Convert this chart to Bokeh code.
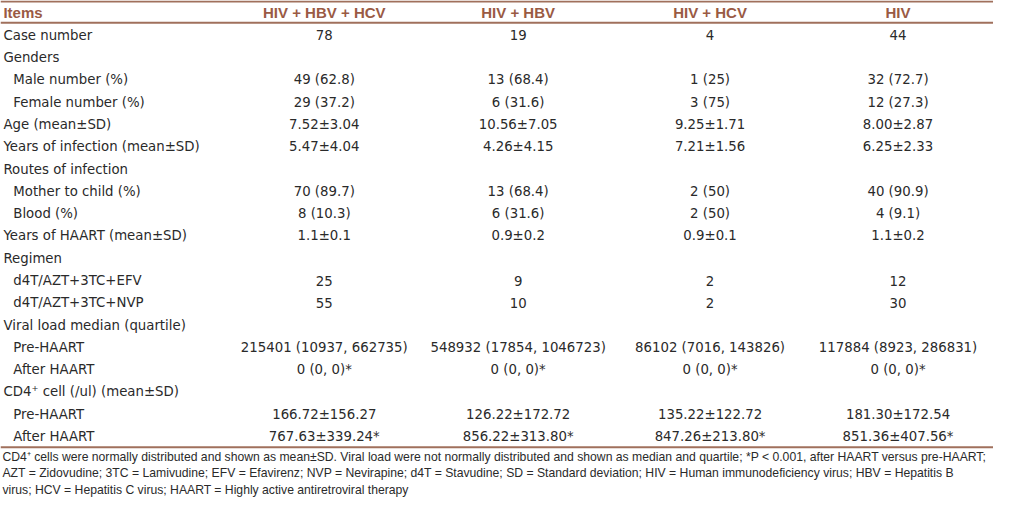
from bokeh.plotting import figure
from bokeh.models import Range1d, Span
from bokeh.core.properties import value
from bokeh.embed import file_html
from bokeh.resources import INLINE

columns = ["HIV + HBV + HCV", "HIV + HBV", "HIV + HCV", "HIV"]
items = [
    "Case number", "Genders", "Male number (%)", "Female number (%)",
    "Age (mean\u00b1SD)", "Years of infection (mean\u00b1SD)", "Routes of infection",
    "Mother to child (%)", "Blood (%)", "Years of HAART (mean\u00b1SD)", "Regimen",
    "d4T/AZT+3TC+EFV", "d4T/AZT+3TC+NVP", "Viral load median (quartile)",
    "Pre-HAART", "After HAART", "CD4\u207a cell (/ul) (mean\u00b1SD)", "Pre-HAART", "After HAART",
]
indent = [0, 0, 1, 1, 0, 0, 0, 1, 1, 0, 0, 1, 1, 0, 1, 1, 0, 1, 1]
hiv_hbv_hcv = ["78", "", "49 (62.8)", "29 (37.2)", "7.52\u00b13.04", "5.47\u00b14.04", "",
               "70 (89.7)", "8 (10.3)", "1.1\u00b10.1", "", "25", "55", "",
               "215401 (10937, 662735)", "0 (0, 0)*", "", "166.72\u00b1156.27", "767.63\u00b1339.24*"]
hiv_hbv = ["19", "", "13 (68.4)", "6 (31.6)", "10.56\u00b17.05", "4.26\u00b14.15", "",
           "13 (68.4)", "6 (31.6)", "0.9\u00b10.2", "", "9", "10", "",
           "548932 (17854, 1046723)", "0 (0, 0)*", "", "126.22\u00b1172.72", "856.22\u00b1313.80*"]
hiv_hcv = ["4", "", "1 (25)", "3 (75)", "9.25\u00b11.71", "7.21\u00b11.56", "",
           "2 (50)", "2 (50)", "0.9\u00b10.1", "", "2", "2", "",
           "86102 (7016, 143826)", "0 (0, 0)*", "", "135.22\u00b1122.72", "847.26\u00b1213.80*"]
hiv = ["44", "", "32 (72.7)", "12 (27.3)", "8.00\u00b12.87", "6.25\u00b12.33", "",
       "40 (90.9)", "4 (9.1)", "1.1\u00b10.2", "", "12", "30", "",
       "117884 (8923, 286831)", "0 (0, 0)*", "", "181.30\u00b1172.54", "851.36\u00b1407.56*"]
footnote = [
    "CD4\u207a cells were normally distributed and shown as mean\u00b1SD. Viral load were not normally distributed and shown as median and quartile; *P < 0.001, after HAART versus pre-HAART;",
    "AZT = Zidovudine; 3TC = Lamivudine; EFV = Efavirenz; NVP = Nevirapine; d4T = Stavudine; SD = Standard deviation; HIV = Human immunodeficiency virus; HBV = Hepatitis B",
    "virus; HCV = Hepatitis C virus; HAART = Highly active antiretroviral therapy",
]

W, H = 1009, 515
p = figure(width=993, height=499, x_range=Range1d(0, W), y_range=Range1d(H, 0),
           output_backend="svg", toolbar_location=None)
p.axis.visible = False
p.grid.visible = False
p.outline_line_color = None
p.min_border = 0
p.background_fill_color = "white"

brown = "#9a5a44"
line_col = "#a0705c"
txt = "#2a2a2a"
col_x = [329, 526, 721, 912]
row0, dy = 36, 23

# header
p.text(x=[3], y=[12], text=["Items"], text_font=value("Liberation Sans"), text_font_style="bold",
       text_font_size="15px", text_color=brown, text_baseline="middle", text_align="left")
p.text(x=col_x, y=[12] * 4, text=columns, text_font=value("Liberation Sans"), text_font_style="bold",
       text_font_size="15px", text_color=brown, text_baseline="middle", text_align="center")

ys = [row0 + i * dy for i in range(len(items))]
xs = [3 + 10 * k for k in indent]
p.text(x=xs, y=ys, text=items, text_font=value("DejaVu Sans"), text_font_size="13.3px",
       text_color=txt, text_baseline="middle", text_align="left")
for cx, vals in zip(col_x, [hiv_hbv_hcv, hiv_hbv, hiv_hcv, hiv]):
    p.text(x=[cx] * len(vals), y=ys, text=vals, text_font=value("DejaVu Sans"), text_font_size="13.3px",
           text_color=txt, text_baseline="middle", text_align="center")

p.text(x=[2] * 3, y=[471, 488, 505], text=footnote, text_font=value("Liberation Sans"),
       text_font_size="12.2px", text_color=txt, text_baseline="middle", text_align="left")

for yy in [1, 23, 461]:
    p.add_layout(Span(location=yy, dimension="width", line_color=line_col, line_width=2))

open("out.html", "w").write(file_html(p, INLINE))
